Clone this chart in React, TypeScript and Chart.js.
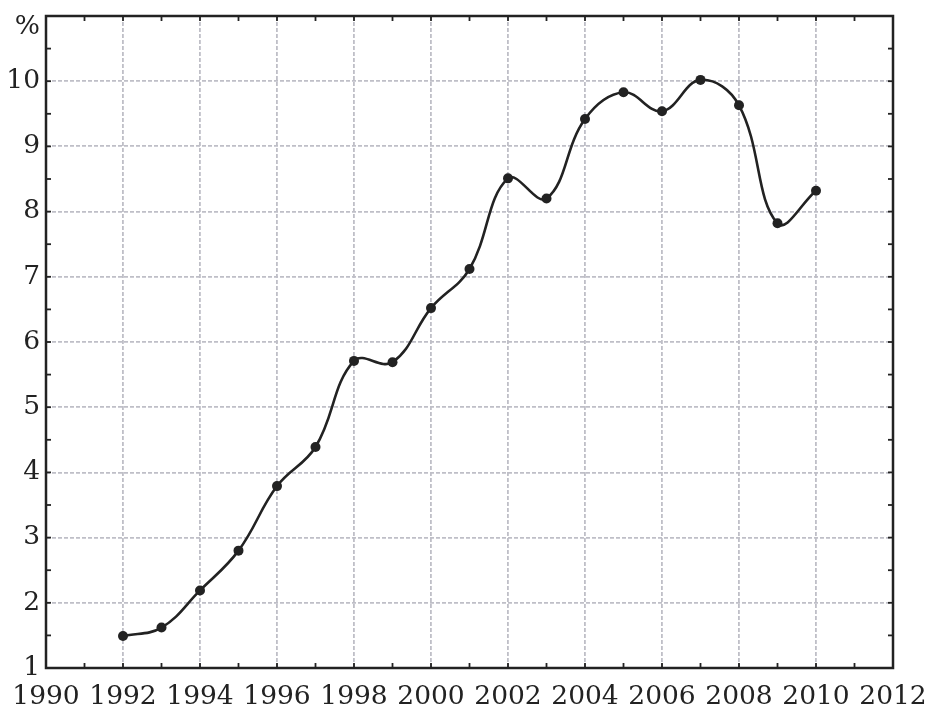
import React, { useEffect, useRef } from "react";
import { Chart, registerables } from "chart.js";

Chart.register(...registerables);

const years = [1992, 1993, 1994, 1995, 1996, 1997, 1998, 1999, 2000, 2001, 2002, 2003, 2004, 2005, 2006, 2007, 2008, 2009, 2010];
const values = [1.49, 1.62, 2.19, 2.8, 3.79, 4.39, 5.71, 5.69, 6.52, 7.12, 8.51, 8.2, 9.42, 9.83, 9.54, 10.02, 9.63, 7.82, 8.32];

const X_MIN = 1990;
const X_MAX = 2012;
const Y_MIN = 1;
const Y_MAX = 11;
const Y_TICKS = [1, 2, 3, 4, 5, 6, 7, 8, 9, 10];
const Y_UNIT_LABEL = "%";
const Y_UNIT_POS = 10.83;

const INK = "#222222";
const GRID = "#bfbfc7";
const FONT = "'DejaVu Serif', 'Liberation Serif', serif";

const framePlugin = {
  id: "frameTicks",
  afterDraw(chart: any) {
    const { ctx, chartArea: a } = chart;
    const x = chart.scales.x;
    const y = chart.scales.y;
    ctx.save();
    ctx.strokeStyle = INK;
    ctx.lineWidth = 1.8;
    const line = (x1: number, y1: number, x2: number, y2: number) => {
      ctx.beginPath();
      ctx.moveTo(x1, y1);
      ctx.lineTo(x2, y2);
      ctx.stroke();
    };
    for (let v = X_MIN; v <= X_MAX; v += 1) {
      const px = x.getPixelForValue(v);
      line(px, a.bottom, px, a.bottom - 5);
      line(px, a.top, px, a.top + 5);
    }
    for (let v = Y_MIN; v <= Y_MAX + 1e-9; v += 0.5) {
      const py = y.getPixelForValue(v);
      line(a.left, py, a.left + 5, py);
      line(a.right, py, a.right - 5, py);
    }
    ctx.lineWidth = 2.5;
    ctx.strokeRect(a.left, a.top, a.right - a.left, a.bottom - a.top);
    ctx.restore();
  },
};

export default function App() {
  const ref = useRef<HTMLCanvasElement | null>(null);
  useEffect(() => {
    if (!ref.current) return;
    const data = years.map((yr, i) => ({ x: yr, y: values[i] }));
    const chart = new Chart(ref.current, {
      type: "line",
      data: {
        datasets: [
          {
            data,
            borderColor: INK,
            borderWidth: 2.6,
            backgroundColor: INK,
            pointBackgroundColor: INK,
            pointBorderColor: INK,
            pointRadius: 5,
            pointBorderWidth: 0,
            tension: 0.4,
            fill: false,
          },
        ],
      },
      options: {
        responsive: false,
        animation: false,
        events: [],
        layout: { padding: { top: 16, right: 37, left: 0, bottom: 0 } },
        plugins: { legend: { display: false }, tooltip: { enabled: false }, title: { display: false } },
        scales: {
          x: {
            type: "linear",
            min: X_MIN,
            max: X_MAX,
            afterFit: (s: any) => {
              s.height = 39;
              s.paddingRight = 0;
              s.paddingLeft = 0;
            },
            ticks: {
              stepSize: 2,
              color: INK,
              padding: 13,
              font: { family: FONT, size: 26.5 },
              callback: (v: any) => String(v),
              maxRotation: 0,
              autoSkip: false,
            },
            grid: { color: GRID, lineWidth: 1.8, drawTicks: false },
            border: { display: false, dash: [4, 2] },
          },
          y: {
            type: "linear",
            min: Y_MIN,
            max: Y_MAX,
            afterBuildTicks: (s: any) => {
              s.ticks = Y_TICKS.map((v) => ({ value: v })).concat([{ value: Y_UNIT_POS }]);
            },
            afterFit: (s: any) => {
              s.width = 46;
              s.paddingTop = 0;
              s.paddingBottom = 0;
            },
            ticks: {
              color: INK,
              padding: 6,
              font: { family: FONT, size: 26.5 },
              callback: (v: any) => (v === Y_UNIT_POS ? Y_UNIT_LABEL : String(v)),
            },
            grid: {
              color: (c: any) => (c.tick && c.tick.value === Y_UNIT_POS ? "rgba(0,0,0,0)" : GRID),
              lineWidth: 1.8,
              drawTicks: false,
            },
            border: { display: false, dash: [4, 2] },
          },
        },
      },
      plugins: [framePlugin],
    });
    return () => chart.destroy();
  }, []);
  return (
    <div style={{ position: "fixed", left: 0, top: 0, width: 930, height: 707, background: "#fff" }}>
      <canvas ref={ref} width={930} height={707} />
    </div>
  );
}
